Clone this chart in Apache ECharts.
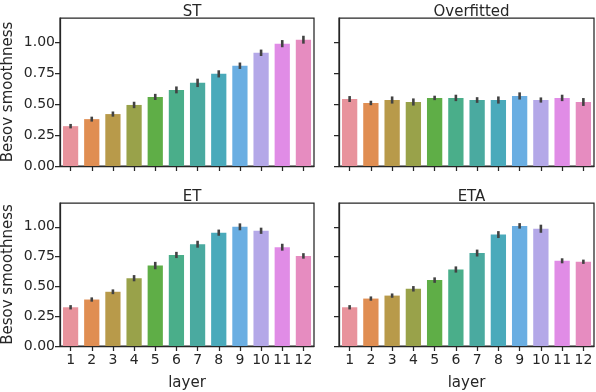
<!DOCTYPE html>
<html>
<head>
<meta charset="utf-8">
<script src="https://cdn.jsdelivr.net/npm/echarts@6/dist/echarts.min.js"></script>
<style>
  html, body { margin: 0; padding: 0; background: #fff; }
  #chart { width: 596px; height: 392px; }
</style>
</head>
<body>
<div id="chart"></div>
<script>
// 数据
var layers = ['1', '2', '3', '4', '5', '6', '7', '8', '9', '10', '11', '12'];
var titles = ['ST', 'Overfitted', 'ET', 'ETA'];
var yTicks = [0, 0.25, 0.5, 0.75, 1.0];

var stValues = [0.323, 0.380, 0.421, 0.495, 0.560, 0.617, 0.674, 0.747, 0.813, 0.918, 0.992, 1.024];
var stErr    = [0.018, 0.020, 0.021, 0.026, 0.025, 0.028, 0.034, 0.029, 0.026, 0.026, 0.029, 0.032];

var overValues = [0.543, 0.511, 0.535, 0.519, 0.552, 0.552, 0.535, 0.535, 0.568, 0.535, 0.552, 0.519];
var overErr    = [0.024, 0.018, 0.029, 0.029, 0.018, 0.026, 0.023, 0.029, 0.029, 0.021, 0.026, 0.032];

var etValues = [0.325, 0.390, 0.455, 0.569, 0.675, 0.764, 0.854, 0.951, 1.000, 0.967, 0.829, 0.756];
var etErr    = [0.018, 0.018, 0.020, 0.026, 0.031, 0.026, 0.029, 0.026, 0.029, 0.026, 0.029, 0.023];

var etaValues = [0.325, 0.398, 0.423, 0.480, 0.553, 0.642, 0.780, 0.935, 1.008, 0.984, 0.715, 0.707];
var etaErr    = [0.018, 0.018, 0.018, 0.023, 0.023, 0.026, 0.029, 0.029, 0.023, 0.034, 0.021, 0.018];

var palette = ['#e8939c', '#e08e52', '#b89a4a', '#99a24a', '#5fae47', '#4aae8a',
               '#4aaaa0', '#4aaabb', '#6aaee2', '#b4a8e8', '#e08ce6', '#e68cc0'];

var panels = [
    { values: stValues, err: stErr },
    { values: overValues, err: overErr },
    { values: etValues, err: etErr },
    { values: etaValues, err: etaErr }
];

var ink = '#262626';
var font = 'DejaVu Sans';

var grids = [
    { left: 60, top: 18, width: 254, height: 148 },
    { left: 339, top: 18, width: 255, height: 148 },
    { left: 60, top: 203, width: 254, height: 147 },
    { left: 339, top: 203, width: 255, height: 147 }
];

var option = {
    animation: false,
    backgroundColor: '#fff',
    title: [],
    grid: [],
    xAxis: [],
    yAxis: [],
    series: []
};

panels.forEach(function(p, i) {
    var g = grids[i];
    option.grid.push({
        left: g.left, top: g.top, width: g.width, height: g.height,
        show: true, borderColor: ink, borderWidth: 1.25, backgroundColor: 'transparent'
    });
    option.title.push({
        text: titles[i],
        left: g.left + g.width / 2,
        top: g.top - 18,
        textAlign: 'center',
        textStyle: { fontFamily: font, fontSize: 15, fontWeight: 'normal', color: ink }
    });
    var bottomRow = i >= 2;
    option.xAxis.push({
        type: 'category',
        gridIndex: i,
        data: layers,
        name: bottomRow ? 'layer' : '',
        nameLocation: 'middle',
        nameGap: 30,
        nameTextStyle: { fontFamily: font, fontSize: 15, color: ink },
        axisLine: { show: true, lineStyle: { color: ink, width: 1.25 } },
        axisTick: { show: true, alignWithLabel: true, length: 5, lineStyle: { color: ink, width: 1.25 } },
        axisLabel: { show: bottomRow, fontFamily: font, fontSize: 14, color: ink, margin: 7, interval: 0 },
        splitLine: { show: false }
    });
    var leftCol = i % 2 === 0;
    option.yAxis.push({
        type: 'value',
        gridIndex: i,
        min: 0,
        max: 1.2,
        interval: 0.25,
        name: leftCol ? 'Besov smoothness' : '',
        nameLocation: 'middle',
        nameGap: 44,
        nameTextStyle: { fontFamily: font, fontSize: 15, color: ink },
        axisLine: { show: true, lineStyle: { color: ink, width: 1.25 } },
        axisTick: { show: true, length: 5, customValues: yTicks, lineStyle: { color: ink, width: 1.25 } },
        axisLabel: {
            show: leftCol, customValues: yTicks, fontFamily: font, fontSize: 14, color: ink, margin: 5,
            formatter: function(v) { return v.toFixed(2); }
        },
        splitLine: { show: false }
    });
    option.series.push({
        type: 'bar',
        xAxisIndex: i,
        yAxisIndex: i,
        barCategoryGap: '28%',
        data: p.values.map(function(v, k) {
            return { value: v, itemStyle: { color: palette[k] } };
        })
    });
    // 误差线
    option.series.push({
        type: 'custom',
        xAxisIndex: i,
        yAxisIndex: i,
        z: 5,
        data: p.values.map(function(v, k) { return [k, v - p.err[k], v + p.err[k]]; }),
        renderItem: function(params, api) {
            var lo = api.coord([api.value(0), api.value(1)]);
            var hi = api.coord([api.value(0), api.value(2)]);
            return {
                type: 'line',
                shape: { x1: lo[0], y1: lo[1], x2: hi[0], y2: hi[1] },
                style: { stroke: '#424242', lineWidth: 2.6 }
            };
        }
    });
});

var chart = echarts.init(document.getElementById('chart'));
chart.setOption(option);
</script>
</body>
</html>
